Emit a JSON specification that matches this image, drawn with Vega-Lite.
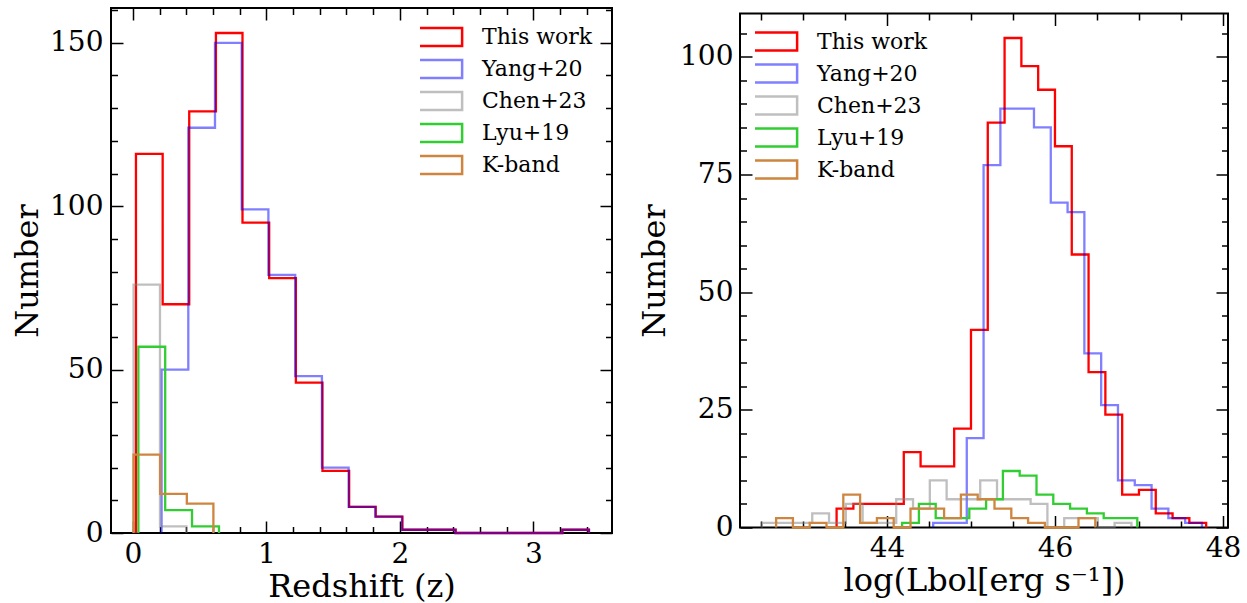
{
  "$schema": "https://vega.github.io/schema/vega-lite/v6.json",
  "padding": {"left": 10, "top": 6, "right": 5, "bottom": 0},
  "background": "white",
  "spacing": 23,
  "center": true,
  "config": {
    "font": "DejaVu Serif",
    "view": {"stroke": "black", "strokeWidth": 2},
    "axis": {
      "grid": false, "domain": false, "labelFlush": false,
      "labelFont": "DejaVu Serif", "labelFontSize": 28, "labelColor": "black",
      "titleFont": "DejaVu Serif", "titleFontSize": 32, "titleFontWeight": "normal", "titleColor": "black",
      "tickColor": "black", "tickWidth": 1.5
    },
    "legend": {
      "orient": "none", "title": null,
      "symbolType": "M-1.6,-0.57H1.6V0.57H-1.6Z", "symbolSize": 986, "symbolStrokeWidth": 2.5,
      "symbolFillColor": "transparent",
      "labelFont": "DejaVu Serif", "labelFontSize": 22, "labelColor": "black", "labelOffset": 28,
      "clipHeight": 22, "rowPadding": 10
    }
  },
  "datasets": {
    "z": [
      {"s": "This work", "x": 0.023, "n": 0, "i": 0},
      {"s": "This work", "x": 0.023, "n": 116, "i": 1},
      {"s": "This work", "x": 0.223, "n": 70, "i": 2},
      {"s": "This work", "x": 0.422, "n": 129, "i": 3},
      {"s": "This work", "x": 0.622, "n": 153, "i": 4},
      {"s": "This work", "x": 0.821, "n": 95, "i": 5},
      {"s": "This work", "x": 1.021, "n": 78, "i": 6},
      {"s": "This work", "x": 1.221, "n": 46, "i": 7},
      {"s": "This work", "x": 1.420, "n": 19, "i": 8},
      {"s": "This work", "x": 1.620, "n": 8, "i": 9},
      {"s": "This work", "x": 1.819, "n": 5, "i": 10},
      {"s": "This work", "x": 2.019, "n": 1, "i": 11},
      {"s": "This work", "x": 2.219, "n": 1, "i": 12},
      {"s": "This work", "x": 2.418, "n": 0, "i": 13},
      {"s": "This work", "x": 2.618, "n": 0, "i": 14},
      {"s": "This work", "x": 2.817, "n": 0, "i": 15},
      {"s": "This work", "x": 3.017, "n": 0, "i": 16},
      {"s": "This work", "x": 3.217, "n": 1, "i": 17},
      {"s": "This work", "x": 3.416, "n": 0, "i": 18},
      {"s": "Yang+20", "x": 0.215, "n": 0, "i": 0},
      {"s": "Yang+20", "x": 0.215, "n": 50, "i": 1},
      {"s": "Yang+20", "x": 0.415, "n": 124, "i": 2},
      {"s": "Yang+20", "x": 0.615, "n": 150, "i": 3},
      {"s": "Yang+20", "x": 0.815, "n": 99, "i": 4},
      {"s": "Yang+20", "x": 1.015, "n": 79, "i": 5},
      {"s": "Yang+20", "x": 1.216, "n": 48, "i": 6},
      {"s": "Yang+20", "x": 1.416, "n": 20, "i": 7},
      {"s": "Yang+20", "x": 1.616, "n": 8, "i": 8},
      {"s": "Yang+20", "x": 1.816, "n": 5, "i": 9},
      {"s": "Yang+20", "x": 2.016, "n": 1, "i": 10},
      {"s": "Yang+20", "x": 2.216, "n": 1, "i": 11},
      {"s": "Yang+20", "x": 2.416, "n": 0, "i": 12},
      {"s": "Yang+20", "x": 2.616, "n": 0, "i": 13},
      {"s": "Yang+20", "x": 2.816, "n": 0, "i": 14},
      {"s": "Yang+20", "x": 3.016, "n": 0, "i": 15},
      {"s": "Yang+20", "x": 3.217, "n": 1, "i": 16},
      {"s": "Yang+20", "x": 3.417, "n": 0, "i": 17},
      {"s": "Chen+23", "x": 0.005, "n": 0, "i": 0},
      {"s": "Chen+23", "x": 0.005, "n": 76, "i": 1},
      {"s": "Chen+23", "x": 0.203, "n": 2, "i": 2},
      {"s": "Chen+23", "x": 0.401, "n": 0, "i": 3},
      {"s": "Lyu+19", "x": 0.041, "n": 0, "i": 0},
      {"s": "Lyu+19", "x": 0.041, "n": 57, "i": 1},
      {"s": "Lyu+19", "x": 0.242, "n": 7, "i": 2},
      {"s": "Lyu+19", "x": 0.443, "n": 2, "i": 3},
      {"s": "Lyu+19", "x": 0.645, "n": 0, "i": 4},
      {"s": "K-band", "x": 0.005, "n": 0, "i": 0},
      {"s": "K-band", "x": 0.005, "n": 24, "i": 1},
      {"s": "K-band", "x": 0.204, "n": 12, "i": 2},
      {"s": "K-band", "x": 0.404, "n": 9, "i": 3},
      {"s": "K-band", "x": 0.603, "n": 0, "i": 4}
    ],
    "lb": [
      {"s": "This work", "x": 43.4, "n": 0, "i": 0},
      {"s": "This work", "x": 43.4, "n": 4, "i": 1},
      {"s": "This work", "x": 43.6, "n": 5, "i": 2},
      {"s": "This work", "x": 43.8, "n": 5, "i": 3},
      {"s": "This work", "x": 44.0, "n": 5, "i": 4},
      {"s": "This work", "x": 44.2, "n": 16, "i": 5},
      {"s": "This work", "x": 44.4, "n": 13, "i": 6},
      {"s": "This work", "x": 44.6, "n": 13, "i": 7},
      {"s": "This work", "x": 44.8, "n": 21, "i": 8},
      {"s": "This work", "x": 45.0, "n": 42, "i": 9},
      {"s": "This work", "x": 45.2, "n": 86, "i": 10},
      {"s": "This work", "x": 45.4, "n": 104, "i": 11},
      {"s": "This work", "x": 45.6, "n": 98, "i": 12},
      {"s": "This work", "x": 45.8, "n": 93, "i": 13},
      {"s": "This work", "x": 46.0, "n": 81, "i": 14},
      {"s": "This work", "x": 46.2, "n": 58, "i": 15},
      {"s": "This work", "x": 46.4, "n": 33, "i": 16},
      {"s": "This work", "x": 46.6, "n": 24, "i": 17},
      {"s": "This work", "x": 46.8, "n": 7, "i": 18},
      {"s": "This work", "x": 47.0, "n": 8, "i": 19},
      {"s": "This work", "x": 47.2, "n": 3, "i": 20},
      {"s": "This work", "x": 47.4, "n": 2, "i": 21},
      {"s": "This work", "x": 47.6, "n": 1, "i": 22},
      {"s": "This work", "x": 47.8, "n": 0, "i": 23},
      {"s": "Yang+20", "x": 44.55, "n": 0, "i": 0},
      {"s": "Yang+20", "x": 44.55, "n": 1, "i": 1},
      {"s": "Yang+20", "x": 44.75, "n": 1, "i": 2},
      {"s": "Yang+20", "x": 44.95, "n": 19, "i": 3},
      {"s": "Yang+20", "x": 45.15, "n": 77, "i": 4},
      {"s": "Yang+20", "x": 45.35, "n": 89, "i": 5},
      {"s": "Yang+20", "x": 45.55, "n": 89, "i": 6},
      {"s": "Yang+20", "x": 45.75, "n": 85, "i": 7},
      {"s": "Yang+20", "x": 45.95, "n": 69, "i": 8},
      {"s": "Yang+20", "x": 46.15, "n": 67, "i": 9},
      {"s": "Yang+20", "x": 46.35, "n": 37, "i": 10},
      {"s": "Yang+20", "x": 46.55, "n": 26, "i": 11},
      {"s": "Yang+20", "x": 46.75, "n": 10, "i": 12},
      {"s": "Yang+20", "x": 46.95, "n": 9, "i": 13},
      {"s": "Yang+20", "x": 47.15, "n": 4, "i": 14},
      {"s": "Yang+20", "x": 47.35, "n": 2, "i": 15},
      {"s": "Yang+20", "x": 47.55, "n": 1, "i": 16},
      {"s": "Yang+20", "x": 47.75, "n": 0, "i": 17},
      {"s": "Chen+23", "x": 42.51, "n": 0, "i": 0},
      {"s": "Chen+23", "x": 42.51, "n": 1, "i": 1},
      {"s": "Chen+23", "x": 42.71, "n": 1, "i": 2},
      {"s": "Chen+23", "x": 42.91, "n": 1, "i": 3},
      {"s": "Chen+23", "x": 43.11, "n": 3, "i": 4},
      {"s": "Chen+23", "x": 43.31, "n": 1, "i": 5},
      {"s": "Chen+23", "x": 43.51, "n": 5, "i": 6},
      {"s": "Chen+23", "x": 43.71, "n": 1, "i": 7},
      {"s": "Chen+23", "x": 43.91, "n": 1, "i": 8},
      {"s": "Chen+23", "x": 44.11, "n": 6, "i": 9},
      {"s": "Chen+23", "x": 44.31, "n": 4, "i": 10},
      {"s": "Chen+23", "x": 44.51, "n": 10, "i": 11},
      {"s": "Chen+23", "x": 44.71, "n": 6, "i": 12},
      {"s": "Chen+23", "x": 44.91, "n": 6, "i": 13},
      {"s": "Chen+23", "x": 45.11, "n": 10, "i": 14},
      {"s": "Chen+23", "x": 45.31, "n": 6, "i": 15},
      {"s": "Chen+23", "x": 45.51, "n": 6, "i": 16},
      {"s": "Chen+23", "x": 45.71, "n": 5, "i": 17},
      {"s": "Chen+23", "x": 45.91, "n": 0, "i": 18},
      {"s": "Chen+23", "x": 46.11, "n": 2, "i": 19},
      {"s": "Chen+23", "x": 46.31, "n": 2, "i": 20},
      {"s": "Chen+23", "x": 46.51, "n": 0, "i": 21},
      {"s": "Chen+23", "x": 46.71, "n": 1, "i": 22},
      {"s": "Chen+23", "x": 46.91, "n": 0, "i": 23},
      {"s": "Lyu+19", "x": 44.18, "n": 0, "i": 0},
      {"s": "Lyu+19", "x": 44.18, "n": 1, "i": 1},
      {"s": "Lyu+19", "x": 44.38, "n": 5, "i": 2},
      {"s": "Lyu+19", "x": 44.58, "n": 2, "i": 3},
      {"s": "Lyu+19", "x": 44.78, "n": 2, "i": 4},
      {"s": "Lyu+19", "x": 44.98, "n": 4, "i": 5},
      {"s": "Lyu+19", "x": 45.18, "n": 6, "i": 6},
      {"s": "Lyu+19", "x": 45.38, "n": 12, "i": 7},
      {"s": "Lyu+19", "x": 45.58, "n": 11, "i": 8},
      {"s": "Lyu+19", "x": 45.78, "n": 7, "i": 9},
      {"s": "Lyu+19", "x": 45.98, "n": 5, "i": 10},
      {"s": "Lyu+19", "x": 46.18, "n": 4, "i": 11},
      {"s": "Lyu+19", "x": 46.38, "n": 3, "i": 12},
      {"s": "Lyu+19", "x": 46.58, "n": 2, "i": 13},
      {"s": "Lyu+19", "x": 46.78, "n": 2, "i": 14},
      {"s": "Lyu+19", "x": 46.98, "n": 0, "i": 15},
      {"s": "K-band", "x": 42.68, "n": 0, "i": 0},
      {"s": "K-band", "x": 42.68, "n": 2, "i": 1},
      {"s": "K-band", "x": 42.88, "n": 0, "i": 2},
      {"s": "K-band", "x": 43.08, "n": 1, "i": 3},
      {"s": "K-band", "x": 43.28, "n": 0, "i": 4},
      {"s": "K-band", "x": 43.48, "n": 7, "i": 5},
      {"s": "K-band", "x": 43.68, "n": 1, "i": 6},
      {"s": "K-band", "x": 43.88, "n": 2, "i": 7},
      {"s": "K-band", "x": 44.08, "n": 0, "i": 8},
      {"s": "K-band", "x": 44.28, "n": 4, "i": 9},
      {"s": "K-band", "x": 44.48, "n": 4, "i": 10},
      {"s": "K-band", "x": 44.68, "n": 2, "i": 11},
      {"s": "K-band", "x": 44.88, "n": 7, "i": 12},
      {"s": "K-band", "x": 45.08, "n": 6, "i": 13},
      {"s": "K-band", "x": 45.28, "n": 4, "i": 14},
      {"s": "K-band", "x": 45.48, "n": 2, "i": 15},
      {"s": "K-band", "x": 45.68, "n": 1, "i": 16},
      {"s": "K-band", "x": 45.88, "n": 0, "i": 17},
      {"s": "K-band", "x": 46.08, "n": 0, "i": 18},
      {"s": "K-band", "x": 46.28, "n": 2, "i": 19},
      {"s": "K-band", "x": 46.48, "n": 0, "i": 20}
    ]
  },
  "hconcat": [
    {
      "width": 501, "height": 525,
      "data": {"name": "z"},
      "resolve": {"axis": {"x": "independent", "y": "independent"}},
      "layer": [
        {
          "mark": {"type": "line", "interpolate": "step-after", "strokeWidth": 2.3},
          "encoding": {
            "x": {"field": "x", "type": "quantitative", "scale": {"domain": [-0.164, 3.589], "nice": false, "zero": false},
                  "axis": {"orient": "bottom", "values": [0, 1, 2, 3], "format": "d", "ticks": false, "tickSize": 0, "labelPadding": 7, "title": "Redshift (z)", "titlePadding": 3}},
            "y": {"field": "n", "type": "quantitative", "scale": {"domain": [0, 160.65], "nice": false, "zero": false},
                  "axis": {"orient": "left", "values": [0, 50, 100, 150], "ticks": false, "tickSize": 0, "labelPadding": 8, "title": "Number", "titlePadding": 5}},
            "color": {"field": "s", "type": "nominal",
                      "scale": {"domain": ["This work", "Yang+20", "Chen+23", "Lyu+19", "K-band"], "range": ["#ff0000", "rgba(0,0,255,0.5)", "rgba(128,128,128,0.5)", "#32cd32", "#cd853f"]},
                      "legend": {"legendX": 309, "legendY": 18}},
            "order": {"field": "i", "type": "quantitative"}
          }
        },
        {
          "mark": {"type": "point", "opacity": 0, "size": 1},
          "encoding": {
            "x": {"field": "x", "type": "quantitative", "axis": {"orient": "bottom", "values": [0, 1, 2, 3], "labels": false, "tickSize": -12, "title": null}},
            "y": {"field": "n", "type": "quantitative", "axis": {"orient": "left", "values": [0, 50, 100, 150], "labels": false, "tickSize": -12, "title": null}}
          }
        },
        {
          "mark": {"type": "point", "opacity": 0, "size": 1},
          "encoding": {
            "x": {"field": "x", "type": "quantitative", "axis": {"orient": "bottom", "values": [0.2, 0.4, 0.6, 0.8, 1.2, 1.4, 1.6, 1.8, 2.2, 2.4, 2.6, 2.8, 3.2, 3.4], "labels": false, "tickSize": -6.5, "title": null}},
            "y": {"field": "n", "type": "quantitative", "axis": {"orient": "left", "values": [10, 20, 30, 40, 60, 70, 80, 90, 110, 120, 130, 140, 160], "labels": false, "tickSize": -6.5, "title": null}}
          }
        },
        {
          "mark": {"type": "point", "opacity": 0, "size": 1},
          "encoding": {
            "x": {"field": "x", "type": "quantitative", "axis": {"orient": "top", "values": [0, 1, 2, 3], "labels": false, "tickSize": -12, "title": null}},
            "y": {"field": "n", "type": "quantitative", "axis": {"orient": "right", "values": [0, 50, 100, 150], "labels": false, "tickSize": -12, "title": null}}
          }
        },
        {
          "mark": {"type": "point", "opacity": 0, "size": 1},
          "encoding": {
            "x": {"field": "x", "type": "quantitative", "axis": {"orient": "top", "values": [0.2, 0.4, 0.6, 0.8, 1.2, 1.4, 1.6, 1.8, 2.2, 2.4, 2.6, 2.8, 3.2, 3.4], "labels": false, "tickSize": -6.5, "title": null}},
            "y": {"field": "n", "type": "quantitative", "axis": {"orient": "right", "values": [10, 20, 30, 40, 60, 70, 80, 90, 110, 120, 130, 140, 160], "labels": false, "tickSize": -6.5, "title": null}}
          }
        }
      ]
    },
    {
      "width": 488, "height": 514,
      "data": {"name": "lb"},
      "resolve": {"axis": {"x": "independent", "y": "independent"}},
      "layer": [
        {
          "mark": {"type": "line", "interpolate": "step-after", "strokeWidth": 2.3},
          "encoding": {
            "x": {"field": "x", "type": "quantitative", "scale": {"domain": [42.25, 48.06], "nice": false, "zero": false},
                  "axis": {"orient": "bottom", "values": [44, 46, 48], "format": "d", "ticks": false, "tickSize": 0, "labelPadding": 7, "title": "log(Lbol[erg s⁻¹])", "titlePadding": 3}},
            "y": {"field": "n", "type": "quantitative", "scale": {"domain": [0, 109.2], "nice": false, "zero": false},
                  "axis": {"orient": "left", "values": [0, 25, 50, 75, 100], "ticks": false, "tickSize": 0, "labelPadding": 7, "title": "Number", "titlePadding": 8}},
            "color": {"field": "s", "type": "nominal",
                      "scale": {"domain": ["This work", "Yang+20", "Chen+23", "Lyu+19", "K-band"], "range": ["#ff0000", "rgba(0,0,255,0.5)", "rgba(128,128,128,0.5)", "#32cd32", "#cd853f"]},
                      "legend": {"legendX": 15, "legendY": 17}},
            "order": {"field": "i", "type": "quantitative"}
          }
        },
        {
          "mark": {"type": "point", "opacity": 0, "size": 1},
          "encoding": {
            "x": {"field": "x", "type": "quantitative", "axis": {"orient": "bottom", "values": [44, 46, 48], "labels": false, "tickSize": -12, "title": null}},
            "y": {"field": "n", "type": "quantitative", "axis": {"orient": "left", "values": [0, 25, 50, 75, 100], "labels": false, "tickSize": -12, "title": null}}
          }
        },
        {
          "mark": {"type": "point", "opacity": 0, "size": 1},
          "encoding": {
            "x": {"field": "x", "type": "quantitative", "axis": {"orient": "bottom", "values": [42.5, 43, 43.5, 44.5, 45, 45.5, 46.5, 47, 47.5], "labels": false, "tickSize": -6.5, "title": null}},
            "y": {"field": "n", "type": "quantitative", "axis": {"orient": "left", "values": [5, 10, 15, 20, 30, 35, 40, 45, 55, 60, 65, 70, 80, 85, 90, 95, 105], "labels": false, "tickSize": -6.5, "title": null}}
          }
        },
        {
          "mark": {"type": "point", "opacity": 0, "size": 1},
          "encoding": {
            "x": {"field": "x", "type": "quantitative", "axis": {"orient": "top", "values": [44, 46, 48], "labels": false, "tickSize": -12, "title": null}},
            "y": {"field": "n", "type": "quantitative", "axis": {"orient": "right", "values": [0, 25, 50, 75, 100], "labels": false, "tickSize": -12, "title": null}}
          }
        },
        {
          "mark": {"type": "point", "opacity": 0, "size": 1},
          "encoding": {
            "x": {"field": "x", "type": "quantitative", "axis": {"orient": "top", "values": [42.5, 43, 43.5, 44.5, 45, 45.5, 46.5, 47, 47.5], "labels": false, "tickSize": -6.5, "title": null}},
            "y": {"field": "n", "type": "quantitative", "axis": {"orient": "right", "values": [5, 10, 15, 20, 30, 35, 40, 45, 55, 60, 65, 70, 80, 85, 90, 95, 105], "labels": false, "tickSize": -6.5, "title": null}}
          }
        }
      ]
    }
  ],
  "resolve": {
    "scale": {"color": "independent"},
    "legend": {"color": "independent"}
  }
}
